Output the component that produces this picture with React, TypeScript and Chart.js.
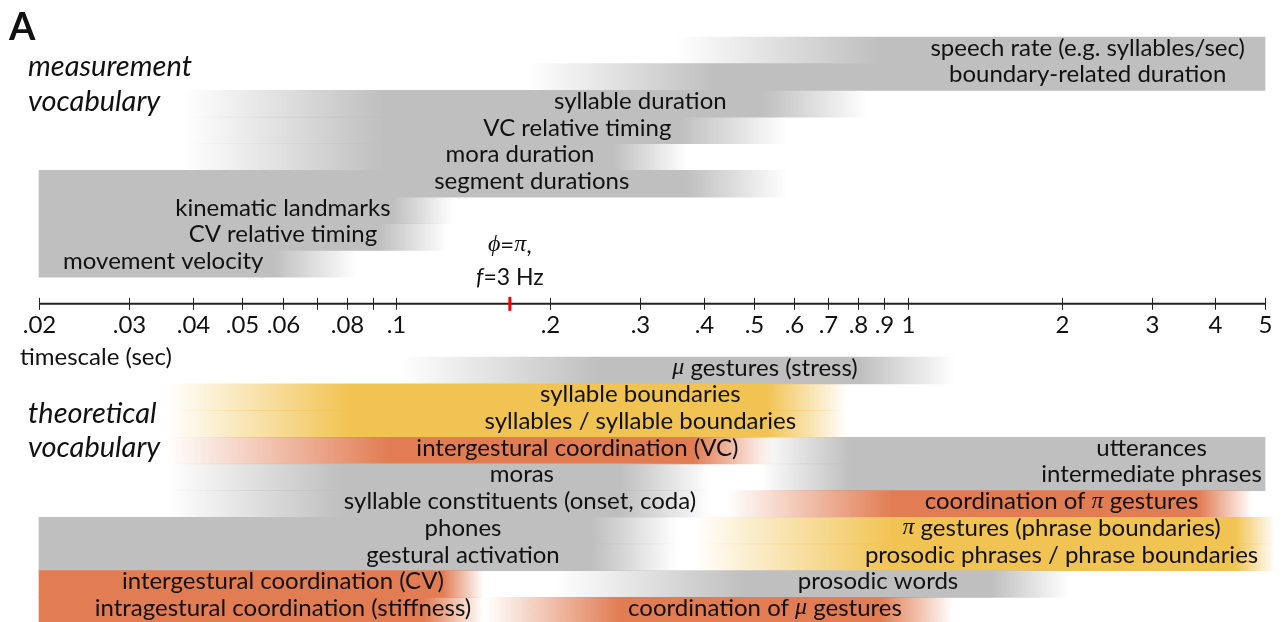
import React, { useEffect, useRef } from "react";
import { Chart, registerables } from "chart.js";

Chart.register(...registerables);

// ---------- scale ----------
const X_MIN = 0.02;
const X_MAX = 5;

// row slots (top to bottom); the three "gap" slots hold the time axis
const ROW_SLOTS = [
  "m1", "m2", "m3", "m4", "m5", "m6", "m7", "m8", "m9",
  "gap1", "gap2", "gap3",
  "t1", "t2", "t3", "t4", "t5", "t6", "t7", "t8", "t9", "t10",
];
const AXIS_SLOT_EDGE = 9.5; // between gap1 and gap2

// ---------- bars (seconds) ----------
const BAR_ROW = [
  "m1", "m2", "m3", "m4", "m5", "m6", "m7", "m8", "m9",
  "t1", "t2", "t3", "t4", "t4", "t5", "t5", "t6", "t6",
  "t7", "t8", "t7", "t8", "t9", "t9", "t10", "t10",
];
const BAR_TONE = [
  "gray", "gray", "gray", "gray", "gray", "gray", "gray", "gray", "gray",
  "gray", "gold", "gold", "coral", "gray", "gray", "gray", "gray", "coral",
  "gray", "gray", "gold", "gold", "coral", "gray", "coral", "coral",
];
const BAR_FADE_IN = [
  0.35, 0.18, 0.0383, 0.0383, 0.0383, 0.02, 0.02, 0.02, 0.02,
  0.1017, 0.0356, 0.0356, 0.0356, 0.514, 0.514, 0.0356, 0.0356, 0.443,
  0.02, 0.02, 0.38, 0.38, 0.02, 0.204, 0.02, 0.149,
];
const BAR_SOLID_FROM = [
  0.88, 0.42, 0.0942, 0.0942, 0.0942, 0.02, 0.02, 0.02, 0.02,
  0.25, 0.0812, 0.0812, 0.0972, 0.772, 0.772, 0.0786, 0.0786, 0.937,
  0.02, 0.02, 0.937, 0.937, 0.02, 0.481, 0.02, 0.274,
];
const BAR_SOLID_TO = [
  5, 5, 0.521, 0.359, 0.265, 0.37, 0.0985, 0.0929, 0.0574,
  0.807, 0.531, 0.531, 0.38, 5, 5, 0.274, 0.274, 3.71,
  0.242, 0.242, 4.37, 4.37, 0.123, 1.456, 0.113, 0.883,
];
const BAR_FADE_OUT = [
  5, 5, 0.833, 0.581, 0.37, 0.581, 0.129, 0.1256, 0.0838,
  1.238, 0.761, 0.761, 0.545, 5, 5, 0.411, 0.411, 4.72,
  0.354, 0.354, 5.23, 5.23, 0.148, 2.07, 0.148, 1.227,
];

// ---------- bar texts ----------
const LABEL_TEXT = [
  "speech rate (e.g. syllables/sec)",
  "boundary-related duration",
  "syllable duration",
  "VC relative timing",
  "mora duration",
  "segment durations",
  "kinematic landmarks",
  "CV relative timing",
  "movement velocity",
  "μ gestures (stress)",
  "syllable boundaries",
  "syllables / syllable boundaries",
  "intergestural coordination (VC)",
  "utterances",
  "moras",
  "intermediate phrases",
  "syllable constituents (onset, coda)",
  "coordination of π gestures",
  "phones",
  "π gestures (phrase boundaries)",
  "gestural activation",
  "prosodic phrases / phrase boundaries",
  "intergestural coordination (CV)",
  "prosodic words",
  "intragestural coordination (stiffness)",
  "coordination of μ gestures",
];
const LABEL_ROW = [
  "m1", "m2", "m3", "m4", "m5", "m6", "m7", "m8", "m9",
  "t1", "t2", "t3", "t4", "t4", "t5", "t5", "t6", "t6",
  "t7", "t7", "t8", "t8", "t9", "t9", "t10", "t10",
];
const LABEL_AT = [
  2.25, 2.25, 0.3, 0.226, 0.1745, 0.184, 0.06, 0.06, 0.035,
  0.526, 0.3, 0.3, 0.226, 3.0, 0.176, 3.0, 0.1745, 2.0,
  0.135, 2.0, 0.135, 2.0, 0.06, 0.875, 0.06, 0.526,
];

// ---------- axis ----------
const TICK_VALUES = [
  0.02, 0.03, 0.04, 0.05, 0.06, 0.07, 0.08, 0.09, 0.1,
  0.2, 0.3, 0.4, 0.5, 0.6, 0.7, 0.8, 0.9, 1, 2, 3, 4, 5,
];
const TICK_LABELS = [
  ".02", ".03", ".04", ".05", ".06", "", ".08", "", ".1",
  ".2", ".3", ".4", ".5", ".6", ".7", ".8", ".9", "1", "2", "3", "4", "5",
];
const MARK_VALUE = 0.1667; // half period at 3 Hz

const TONES: Record<string, [number, number, number]> = {
  gray: [191, 191, 191],
  gold: [241, 195, 82],
  coral: [225, 124, 83],
};

const BASE = "Lato";
const GREEK = "'Liberation Serif'";
const LABEL_SIZE = 24;
const AXIS_SIZE = 24;

function drawRich(
  ctx: CanvasRenderingContext2D,
  text: string,
  x: number,
  y: number,
  size: number,
  align: "center" | "left",
  italicBase = false
) {
  const runs: { t: string; font: string }[] = [];
  let italic = italicBase;
  let buf = "";
  const baseFont = () => `${italic ? "italic " : ""}${size}px ${BASE}`;
  const flush = () => {
    if (buf) runs.push({ t: buf, font: baseFont() });
    buf = "";
  };
  for (const ch of text) {
    if (ch === "*") {
      flush();
      italic = !italic;
      continue;
    }
    if ("μπϕφ".includes(ch)) {
      flush();
      runs.push({ t: ch, font: `italic ${size}px ${GREEK}` });
      continue;
    }
    buf += ch;
  }
  flush();
  let w = 0;
  for (const r of runs) {
    ctx.font = r.font;
    w += ctx.measureText(r.t).width;
  }
  let cx = align === "center" ? x - w / 2 : x;
  ctx.textAlign = "left";
  for (const r of runs) {
    ctx.font = r.font;
    ctx.fillText(r.t, cx, y);
    cx += ctx.measureText(r.t).width;
  }
}

const overlay = {
  id: "overlay",
  afterDatasetsDraw(chart: any) {
    const ctx: CanvasRenderingContext2D = chart.ctx;
    const xs = chart.scales.x;
    const ys = chart.scales.y;
    ctx.save();
    ctx.fillStyle = "#111";
    ctx.textBaseline = "middle";

    // bar texts
    LABEL_TEXT.forEach((t, i) => {
      const px = xs.getPixelForValue(LABEL_AT[i]);
      const py = ys.getPixelForValue(ROW_SLOTS.indexOf(LABEL_ROW[i])) - 2.5;
      drawRich(ctx, t, px, py, LABEL_SIZE, "center");
    });

    // time axis
    const ay = ys.getPixelForValue(AXIS_SLOT_EDGE);
    const x0 = xs.getPixelForValue(X_MIN);
    const x1 = xs.getPixelForValue(X_MAX);
    ctx.strokeStyle = "#222";
    ctx.lineWidth = 2;
    ctx.beginPath();
    ctx.moveTo(x0, ay);
    ctx.lineTo(x1, ay);
    ctx.stroke();
    ctx.lineWidth = 1;
    TICK_VALUES.forEach((v, i) => {
      const px = Math.round(xs.getPixelForValue(v)) + 0.5;
      ctx.strokeStyle = "#222";
      ctx.beginPath();
      ctx.moveTo(px, ay - 6);
      ctx.lineTo(px, ay + 6);
      ctx.stroke();
      if (TICK_LABELS[i]) {
        ctx.font = `${AXIS_SIZE}px ${BASE}`;
        ctx.textAlign = "center";
        ctx.fillText(TICK_LABELS[i], px, ay + 21);
      }
    });
    // red marker
    const mx = xs.getPixelForValue(MARK_VALUE);
    ctx.strokeStyle = "#ff0000";
    ctx.lineWidth = 3;
    ctx.beginPath();
    ctx.moveTo(mx, ay - 7);
    ctx.lineTo(mx, ay + 7);
    ctx.stroke();

    ctx.fillStyle = "#111";
    drawRich(ctx, "ϕ=π,", mx, ay - 59, 24, "center");
    drawRich(ctx, "*f*=3 Hz", mx, ay - 26, 23, "center");

    ctx.font = `${AXIS_SIZE}px ${BASE}`;
    ctx.textAlign = "left";
    ctx.fillText("timescale (sec)", 20, ay + 53);

    // panel letter and section titles
    ctx.textBaseline = "alphabetic";
    ctx.font = `bold 38px ${BASE}`;
    ctx.fillText("A", 9, 40);
    ctx.font = `italic 29px ${BASE}`;
    ctx.fillText("measurement", 28, 76);
    ctx.fillText("vocabulary", 28, 111);
    ctx.fillText("theoretical", 28, 423);
    ctx.fillText("vocabulary", 28, 457);
    ctx.restore();
  },
};

export default function App() {
  const ref = useRef<HTMLCanvasElement | null>(null);
  useEffect(() => {
    if (!ref.current) return;
    const bars = BAR_ROW.map((row, i) => ({
      x: [BAR_FADE_IN[i], BAR_FADE_OUT[i]],
      y: row,
    }));
    const fill = (c: any) => {
      const chart = c.chart;
      const i = c.dataIndex;
      const [r, g, b] = TONES[BAR_TONE[i]] || TONES.gray;
      const solid = `rgba(${r},${g},${b},1)`;
      const clear = `rgba(${r},${g},${b},0)`;
      const xs = chart.scales && chart.scales.x;
      if (!chart.chartArea || !xs || i === undefined) return solid;
      const p0 = xs.getPixelForValue(BAR_FADE_IN[i]);
      const p1 = xs.getPixelForValue(BAR_SOLID_FROM[i]);
      const p2 = xs.getPixelForValue(BAR_SOLID_TO[i]);
      const p3 = xs.getPixelForValue(BAR_FADE_OUT[i]);
      const span = Math.max(1, p3 - p0);
      const grad = chart.ctx.createLinearGradient(p0, 0, p3, 0);
      grad.addColorStop(0, p1 - p0 > 0.5 ? clear : solid);
      grad.addColorStop(Math.min(1, Math.max(0, (p1 - p0) / span)), solid);
      grad.addColorStop(Math.min(1, Math.max(0, (p2 - p0) / span)), solid);
      grad.addColorStop(1, p3 - p2 > 0.5 ? clear : solid);
      return grad;
    };
    const chart = new Chart(ref.current, {
      type: "bar",
      data: {
        labels: ROW_SLOTS,
        datasets: [
          {
            data: bars as any,
            backgroundColor: fill as any,
            borderWidth: 0,
            barPercentage: 1,
            categoryPercentage: 1,
            clip: false as any,
          },
        ],
      },
      options: {
        indexAxis: "y",
        animation: false,
        responsive: false,
        events: [],
        layout: { padding: { left: 39, right: 16, top: 37, bottom: 0 } },
        scales: {
          x: { type: "logarithmic", min: X_MIN, max: X_MAX, display: false },
          y: { type: "category", display: false },
        },
        plugins: {
          legend: { display: false },
          tooltip: { enabled: false },
        },
      },
      plugins: [overlay],
    });
    return () => chart.destroy();
  }, []);
  return (
    <canvas
      ref={ref}
      width={1281}
      height={624}
      style={{ position: "fixed", left: 0, top: 0, display: "block" }}
    />
  );
}
